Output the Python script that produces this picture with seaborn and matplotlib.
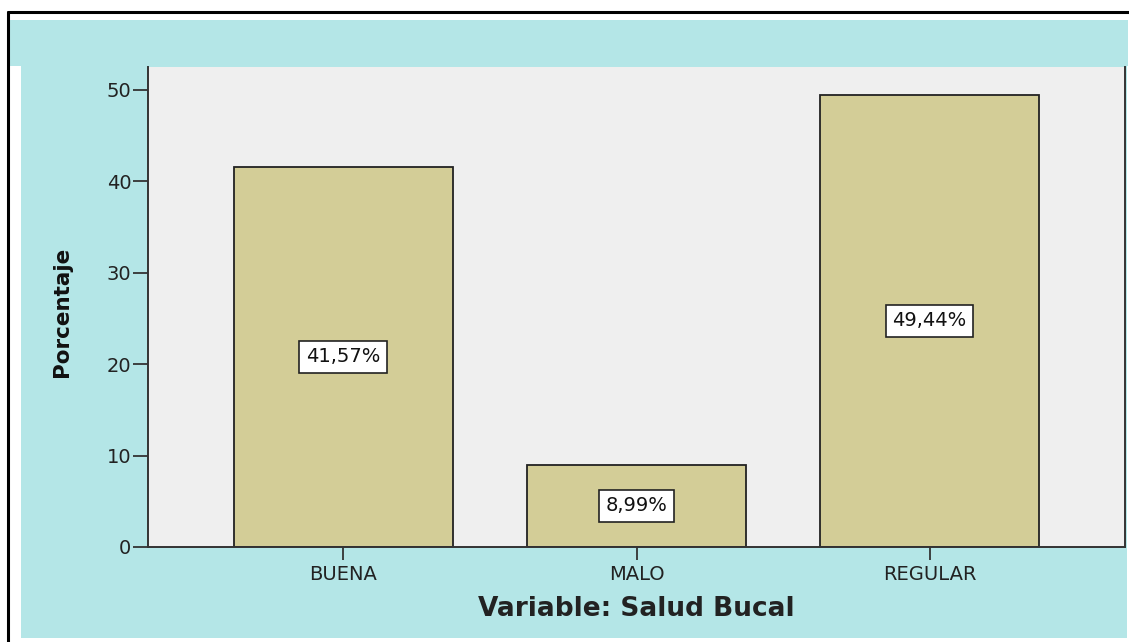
import matplotlib
matplotlib.use("Agg")
import matplotlib.pyplot as plt
from matplotlib.patches import Rectangle
from matplotlib.lines import Line2D
import seaborn as sns

# === Datos ===
categorias = ["BUENA", "MALO", "REGULAR"]
porcentajes = [41.57, 8.99, 49.44]
etiquetas = ["41,57%", "8,99%", "49,44%"]
ticks_y = [0, 10, 20, 30, 40, 50]

# === Estilo ===
sns.set_theme(style="white")
plt.rcParams["font.family"] = ["DejaVu Sans"]

W, H = 1129, 642
fig = plt.figure(figsize=(W / 100, H / 100), dpi=100)
fig.patch.set_facecolor("white")

CIAN = "#b4e6e7"
GRIS = "#efefef"
BARRA = "#d3cd97"

# fondo cian (banda superior + marco)
fig.add_artist(Rectangle((9 / W, 1 - 66 / H), (1128 - 9) / W, 46 / H,
                         transform=fig.transFigure, facecolor=CIAN,
                         edgecolor="none", zorder=-2))
fig.add_artist(Rectangle((21 / W, 1 - 638 / H), (1127 - 21) / W, (638 - 66) / H,
                         transform=fig.transFigure, facecolor=CIAN,
                         edgecolor="none", zorder=-2))
# borde negro
fig.add_artist(Line2D([8 / W, 8 / W], [0, 1 - 12 / H], transform=fig.transFigure,
                      color="black", lw=2.2, zorder=5))
fig.add_artist(Line2D([8 / W, 1], [1 - 12 / H, 1 - 12 / H], transform=fig.transFigure,
                      color="black", lw=2.2, zorder=5))

ax = fig.add_axes([148 / W, 1 - 547 / H, (1125 - 148) / W, (547 - 67) / H])
ax.set_facecolor(GRIS)

sns.barplot(x=categorias, y=porcentajes, color=BARRA, saturation=1,
            edgecolor="#222222", linewidth=1.3, width=0.75, ax=ax)

for i, (v, t) in enumerate(zip(porcentajes, etiquetas)):
    ax.text(i, v / 2, t, ha="center", va="center", fontsize=14, color="#111111",
            bbox=dict(boxstyle="square,pad=0.35", facecolor="white",
                      edgecolor="#222222", linewidth=1.2))

ax.set_xlim(-0.667, 2.667)
ax.set_ylim(0, 52.5)
ax.set_yticks(ticks_y)
ax.tick_params(axis="y", direction="out", length=11, width=1.3, pad=1,
               labelsize=14, color="#333333", labelcolor="#222222", left=True)
ax.tick_params(axis="x", direction="out", length=9, width=1.3, pad=4,
               labelsize=14, color="#333333", labelcolor="#222222", bottom=True)

for lado in ["left", "bottom", "right"]:
    ax.spines[lado].set_visible(True)
    ax.spines[lado].set_color("#333333")
    ax.spines[lado].set_linewidth(1.4)
ax.spines["top"].set_visible(False)

ax.set_ylabel("Porcentaje", fontsize=15.5, fontweight="bold",
              family=["DejaVu Sans Condensed", "DejaVu Sans"], color="#111111")
ax.yaxis.set_label_coords(-0.078, 0.49)
ax.set_xlabel("Variable: Salud Bucal", fontsize=19, fontweight="bold", color="#222222")
ax.xaxis.set_label_coords(0.5, -0.102)

fig.savefig("out.png", dpi=100)
